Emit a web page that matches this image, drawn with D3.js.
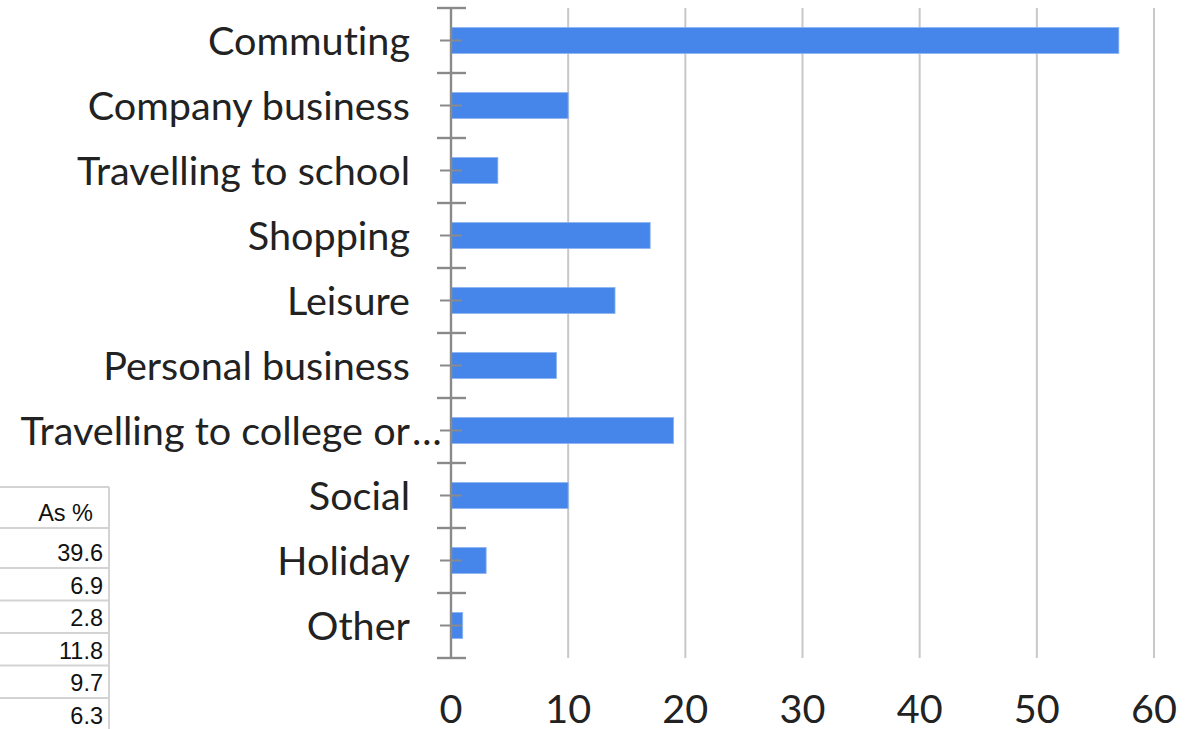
<!DOCTYPE html>
<html>
<head>
<meta charset="utf-8">
<script src="https://cdn.jsdelivr.net/npm/d3@7"></script>
<style>
  html, body { margin: 0; padding: 0; background: #fff; }
  svg { display: block; }
  text { font-variant-ligatures: none; font-feature-settings: "liga" 0, "clig" 0; }
</style>
</head>
<body>
<svg id="chart" width="1190" height="729"></svg>
<script>
// Trip purposes and their counts
const categories = [
  "Commuting", "Company business", "Travelling to school", "Shopping", "Leisure",
  "Personal business", "Travelling to college or university", "Social", "Holiday", "Other"
];
const tripCounts = [57, 10, 4, 17, 14, 9, 19, 10, 3, 1];
const xTicks = [0, 10, 20, 30, 40, 50, 60];

// Spreadsheet column beside the chart
const shareHeader = "As %";
const sharePercents = ["39.6", "6.9", "2.8", "11.8", "9.7", "6.3"];

const svg = d3.select("#chart");
const labelFont = "Lato, 'Open Sans', sans-serif";
const labelSize = 39.6;

const x = d3.scaleLinear().domain([0, 60]).range([451, 1154]);
const y = d3.scaleBand().domain(categories).range([8, 658])
  .paddingInner(0.6).paddingOuter(0.3);

const rows = categories.map((c, i) => ({ category: c, value: tripCounts[i] }));

// Vertical gridlines
svg.append("g").selectAll("line")
  .data(xTicks.filter(t => t > 0))
  .join("line")
  .attr("x1", d => x(d)).attr("x2", d => x(d))
  .attr("y1", y.range()[0]).attr("y2", y.range()[1])
  .attr("stroke", "#c8c8c8").attr("stroke-width", 2);

// Bars
svg.append("g").selectAll("rect")
  .data(rows)
  .join("rect")
  .attr("x", x(0))
  .attr("y", d => y(d.category))
  .attr("width", d => x(d.value) - x(0))
  .attr("height", y.bandwidth())
  .attr("fill", "#4686ea")
  .attr("stroke", "#8db4f2")
  .attr("stroke-width", 0.8);

// Category axis: line, boundary ticks and centre ticks
const axisG = svg.append("g").attr("stroke", "#8a8a8a").attr("stroke-width", 2.4);
axisG.append("line")
  .attr("x1", x(0)).attr("x2", x(0))
  .attr("y1", y.range()[0]).attr("y2", y.range()[1]);
const boundaries = d3.range(categories.length + 1)
  .map(i => y.range()[0] + i * y.step());
axisG.selectAll("line.major")
  .data(boundaries)
  .join("line").attr("class", "major")
  .attr("x1", x(0) - 14).attr("x2", x(0) + 15)
  .attr("y1", d => d).attr("y2", d => d);
axisG.selectAll("line.minor")
  .data(categories)
  .join("line").attr("class", "minor")
  .attr("x1", x(0) - 11).attr("x2", x(0) + 11)
  .attr("y1", d => y(d) + y.bandwidth() / 2)
  .attr("y2", d => y(d) + y.bandwidth() / 2)
  .attr("stroke-width", 2);

// Category labels, long ones cut with an ellipsis
const labelX = 410;
const maxLabelWidth = 400;
const labelG = svg.append("g")
  .attr("font-family", labelFont).attr("font-size", labelSize).attr("fill", "#222");
categories.forEach(c => {
  const cy = y(c) + y.bandwidth() / 2;
  const t = labelG.append("text")
    .attr("x", labelX).attr("y", cy).attr("dy", "0.36em")
    .attr("text-anchor", "end").text(c);
  if (t.node().getComputedTextLength() > maxLabelWidth) {
    const words = c.split(" ");
    while (words.length > 1 && t.node().getComputedTextLength() > maxLabelWidth) {
      words.pop();
      t.text(words.join(" "));
    }
    labelG.append("text")
      .attr("x", labelX + 2).attr("y", cy).attr("dy", "0.36em")
      .attr("text-anchor", "start").text("\u2026");
  }
});

// Value axis labels
svg.append("g")
  .attr("font-family", labelFont).attr("font-size", labelSize).attr("fill", "#222")
  .selectAll("text")
  .data(xTicks)
  .join("text")
  .attr("x", d => x(d)).attr("y", 723)
  .attr("text-anchor", "middle")
  .text(d => d);

// Percentage column
const rowEdges = [487, 528, 568, 600.5, 633, 665.5, 698, 730.5];
const cellRight = 109;
const tableG = svg.append("g");
tableG.selectAll("line.h")
  .data(rowEdges)
  .join("line").attr("class", "h")
  .attr("x1", 0).attr("x2", cellRight)
  .attr("y1", d => d).attr("y2", d => d)
  .attr("stroke", "#d3d3d3").attr("stroke-width", 2);
tableG.append("line")
  .attr("x1", cellRight).attr("x2", cellRight)
  .attr("y1", rowEdges[0]).attr("y2", 729)
  .attr("stroke", "#d3d3d3").attr("stroke-width", 2);
const cellTexts = [shareHeader, ...sharePercents];
tableG.selectAll("text")
  .data(cellTexts)
  .join("text")
  .attr("x", (d, i) => cellRight - (i === 0 ? 16 : 6))
  .attr("y", (d, i) => rowEdges[i + 1] - 7)
  .attr("text-anchor", "end")
  .attr("font-family", "'Liberation Sans', Arial, sans-serif")
  .attr("font-size", 23.5)
  .attr("fill", "#111")
  .text(d => d);
</script>
</body>
</html>
